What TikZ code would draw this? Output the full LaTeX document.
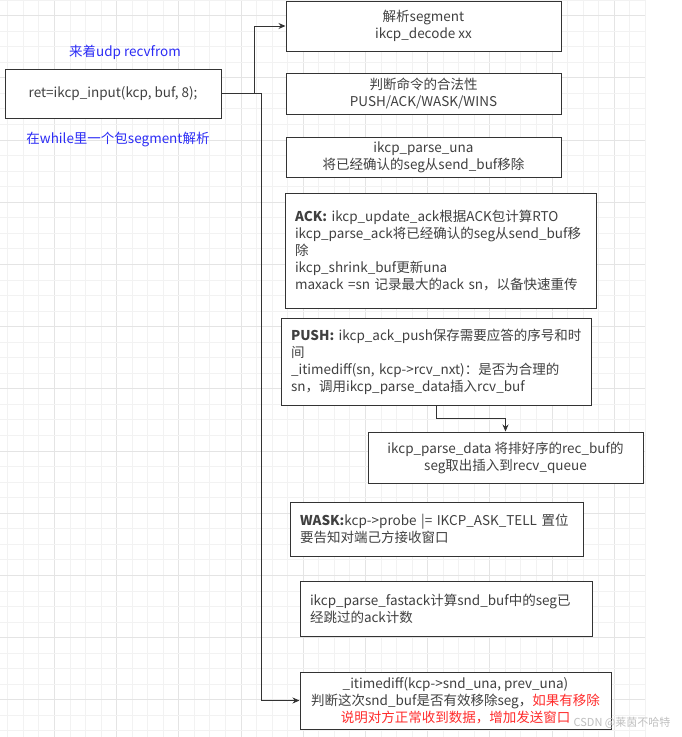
\documentclass[tikz,border=0pt]{standalone}
\usepackage{fontspec}
\setmainfont{Noto Sans CJK SC}
\usepackage{tikz}
\usetikzlibrary{arrows.meta,calc}

\definecolor{inkgray}{HTML}{404040}
\definecolor{linegray}{HTML}{333333}
\definecolor{gridminor}{HTML}{F2F2F2}
\definecolor{gridmajor}{HTML}{E4E4E4}
\definecolor{notblue}{HTML}{2B2BF5}
\definecolor{notred}{HTML}{FF2B2B}

\tikzset{
  stepbox/.style={draw=linegray, line width=1pt, fill=white, text=inkgray,
    inner sep=0pt, minimum width=#1, align=center},
  leftbox/.style={draw=linegray, line width=1pt, fill=white, text=inkgray,
    inner xsep=10pt, inner ysep=0pt, text width=#1-20pt, align=left},
  note/.style={text=notblue},
  link/.style={draw=linegray, line width=1pt, ->},
}

\begin{document}
\begin{tikzpicture}[x=1pt, y=-1pt, >={Stealth[length=7pt,width=6pt]},
  font=\fontsize{13.5}{17}\selectfont]

\useasboundingbox (0,0) rectangle (681,737);

% ---------- background grid ----------
\foreach \k in {0,...,41} {
  \pgfmathtruncatemacro{\ismajor}{mod(\k,4)==3}
  \ifnum\ismajor=1
    \draw[gridmajor, line width=0.8pt] ({7.7+15.55*\k},0) -- ({7.7+15.55*\k},737);
  \else
    \draw[gridminor, line width=0.8pt] ({7.7+15.55*\k},0) -- ({7.7+15.55*\k},737);
  \fi
}
\foreach \k in {0,...,47} {
  \pgfmathtruncatemacro{\ismajor}{mod(\k,4)==1}
  \ifnum\ismajor=1
    \draw[gridmajor, line width=0.8pt] (0,{15.55*\k}) -- (645,{15.55*\k});
  \else
    \draw[gridminor, line width=0.8pt] (0,{15.55*\k}) -- (645,{15.55*\k});
  \fi
}

% ---------- input call ----------
\node[stepbox=216pt, minimum height=49pt] (input) at (113,93.5)
  {ret=ikcp\_input(kcp, buf, 8);};
\node[note] (recvnote) at (125,52) {来着udp recvfrom};
\node[note] (whilenote) at (118,139) {在while里一个包segment解析};

% ---------- segment steps ----------
\node[stepbox=275pt, minimum height=50pt] (decode) at (423.5,26)
  {解析segment\\ikcp\_decode xx};
\node[stepbox=275pt, minimum height=41pt] (check) at (423.5,93.5)
  {判断命令的合法性\\PUSH/ACK/WASK/WINS};
\node[stepbox=275pt, minimum height=40pt] (una) at (423.5,157)
  {ikcp\_parse\_una\\将已经确认的seg从send\_buf移除};

\node[leftbox=311pt, minimum height=115pt] (ack) at (440.5,250.5)
  {\textbf{ACK:} ikcp\_update\_ack根据ACK包计算RTO\\
   ikcp\_parse\_ack将已经确认的seg从send\_buf移\\
   除\\
   ikcp\_shrink\_buf更新una\\
   maxack =sn 记录最大的ack sn，以备快速重传};

\node[leftbox=310pt, minimum height=87pt] (push) at (436,361.5)
  {\mbox{\textbf{PUSH:} ikcp\_ack\_push保存需要应答的序号和时}\\
   间\\
   \_itimediff(sn, kcp->rcv\_nxt)：是否为合理的\\
   sn，调用ikcp\_parse\_data插入rcv\_buf};

\node[stepbox=275pt, minimum height=51pt] (data) at (505.5,457.5)
  {ikcp\_parse\_data 将排好序的rec\_buf的\\seg取出插入到recv\_queue};

\node[leftbox=293pt, minimum height=54pt] (wask) at (436.5,529)
  {\textbf{WASK:}kcp->probe |= IKCP\_ASK\_TELL 置位\\
   要告知对端己方接收窗口};

\node[leftbox=292pt, minimum height=55pt] (fastack) at (446,608.5)
  {ikcp\_parse\_fastack计算snd\_buf中的seg已\\
   经跳过的ack计数};

\node[stepbox=311pt, minimum height=57pt] (prevuna) at (455.5,700.5)
  {\_itimediff(kcp->snd\_una, prev\_una)\\
   判断这次snd\_buf是否有效移除seg，\textcolor{notred}{如果有移除}\\
   \textcolor{notred}{说明对方正常收到数据，增加发送窗口}};

% ---------- connectors ----------
\draw[link] (input.east) -- ++(33,0) |- (decode.west);
\draw[link] (input.east) -- ++(40,0) |- (prevuna.west);
\draw[link] (push.south) -- ++(0,13) -| (data.north);

\node[text=black!25, font=\fontsize{11}{13}\selectfont] (mark) at (622,723)
  {CSDN @莱茵不哈特};

\end{tikzpicture}
\end{document}
